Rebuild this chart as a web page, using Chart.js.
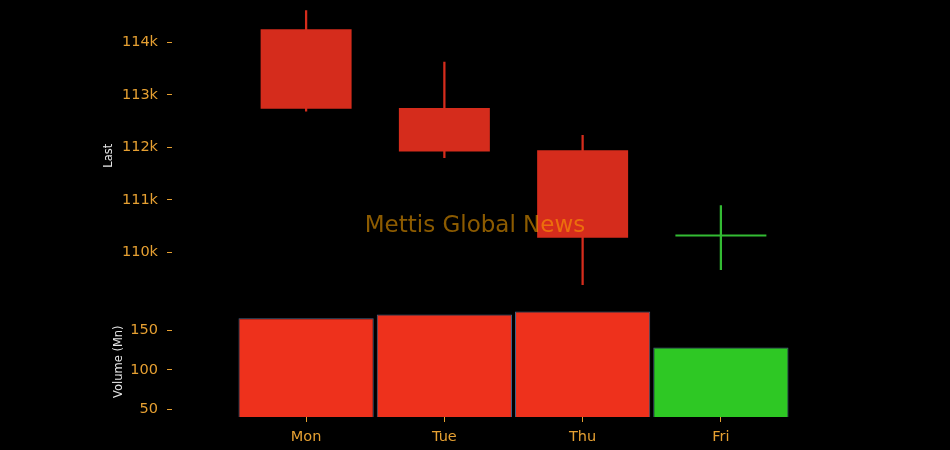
<!DOCTYPE html>
<html><head><meta charset="utf-8">
<script src="https://cdn.jsdelivr.net/npm/chart.js@4/dist/chart.umd.min.js"></script>
<style>html,body{margin:0;padding:0;background:#000;}#wrap{width:950px;height:450px;position:relative;background:#000;}</style>
</head><body><div id="wrap"><canvas id="c" width="950" height="450"></canvas></div>
<script>
const days = ['Mon', 'Tue', 'Thu', 'Fri'];
const openPx = [114250, 112750, 111945, 110305];
const closePx = [112740, 111925, 110280, 110305];
const highPx = [114610, 113625, 112230, 110895];
const lowPx = [112690, 111805, 109385, 109675];
const volumeMn = [165.6, 170.3, 174.0, 128.5];
const priceTicks = [110000, 111000, 112000, 113000, 114000];
const volumeTicks = [50, 100, 150];

const CANDLE_UP = '#33bb33', CANDLE_DOWN = '#d52c1c';
const VOL_UP = '#2ec824', VOL_DOWN = '#ee311c';
const TICK_COLOR = '#e6a032';
const TITLE_COLOR = '#e6e6e6';
const FONT = 'DejaVu Sans';

const isUp = openPx.map((o, i) => closePx[i] >= o);
const candleColors = isUp.map(u => u ? CANDLE_UP : CANDLE_DOWN);
const volColors = isUp.map(u => u ? VOL_UP : VOL_DOWN);

const watermark = {
  id: 'watermark',
  afterDatasetsDraw(chart) {
    const ctx = chart.ctx;
    ctx.save();
    ctx.font = '23px "' + FONT + '"';
    ctx.fillStyle = 'rgba(255,165,0,0.55)';
    ctx.textAlign = 'center';
    ctx.textBaseline = 'alphabetic';
    ctx.fillText('Mettis Global News', chart.width / 2, 231.5);
    ctx.restore();
  }
};

function yAxis(opts) {
  return Object.assign({
    type: 'linear', position: 'left', axis: 'y', stack: 'panels', offset: false,
    grid: { drawOnChartArea: false, drawTicks: true, tickLength: 5, tickColor: TICK_COLOR, lineWidth: 1, offset: false },
    border: { display: false },
    afterFit: s => { s.width = 172; s.paddingTop = 0; s.paddingBottom = 0; }
  }, opts);
}

new Chart(document.getElementById('c'), {
  type: 'bar',
  data: {
    datasets: [
      {
        label: 'Range',
        data: days.map((d, i) => ({ x: i, y: [lowPx[i], highPx[i]] })),
        yAxisID: 'y', backgroundColor: candleColors, barThickness: 1.6,
        grouped: false, order: 3
      },
      {
        label: 'Last',
        data: days.map((d, i) => ({ x: i, y: [openPx[i], closePx[i]] })),
        yAxisID: 'y', backgroundColor: candleColors,
        categoryPercentage: 1, barPercentage: 0.658, minBarLength: 2,
        grouped: false, order: 2
      },
      {
        label: 'Volume (Mn)',
        data: days.map((d, i) => ({ x: i, y: volumeMn[i] })),
        yAxisID: 'yv', backgroundColor: volColors, borderColor: '#4a6385', borderWidth: 1,
        borderSkipped: false,
        categoryPercentage: 1, barPercentage: 0.978,
        grouped: false, order: 1
      }
    ]
  },
  options: {
    responsive: false, animation: false, devicePixelRatio: 1,
    layout: { padding: { left: 0, right: 95, top: 5, bottom: 0 } },
    plugins: { legend: { display: false }, tooltip: { enabled: false } },
    scales: {
      x: {
        type: 'linear', min: -0.97, max: 3.97, offset: false,
        afterBuildTicks: s => { s.ticks = days.map((d, i) => ({ value: i })); },
        ticks: { callback: v => days[v], color: TICK_COLOR, font: { family: FONT, size: 14.5 }, padding: 7, autoSkip: false, maxRotation: 0 },
        grid: { drawOnChartArea: false, drawTicks: true, tickLength: 5, tickColor: TICK_COLOR, offset: false },
        border: { display: false },
        afterFit: s => { s.height = 33; s.paddingLeft = 0; s.paddingRight = 0; }
      },
      y: yAxis({
        weight: 2, stackWeight: 301.4, min: 108973, max: 114714,
        afterBuildTicks: s => { s.ticks = priceTicks.map(v => ({ value: v })); },
        ticks: { callback: v => (v / 1000) + 'k', color: TICK_COLOR, font: { family: FONT, size: 14.5 }, padding: 9 },
        title: { display: true, text: 'Last', color: TITLE_COLOR, font: { family: FONT, size: 11.5 }, padding: { top: 102, bottom: 0 } }
      }),
      yv: yAxis({
        weight: 1, stackWeight: 110.6, min: 40.5, max: 180.5,
        afterBuildTicks: s => { s.ticks = volumeTicks.map(v => ({ value: v })); },
        ticks: { callback: v => String(v), color: TICK_COLOR, font: { family: FONT, size: 14.5 }, padding: 9 },
        title: { display: true, text: 'Volume (Mn)', color: TITLE_COLOR, font: { family: FONT, size: 11.5 }, padding: { top: 112, bottom: 0 } }
      })
    }
  },
  plugins: [watermark]
});
</script>
</body></html>
